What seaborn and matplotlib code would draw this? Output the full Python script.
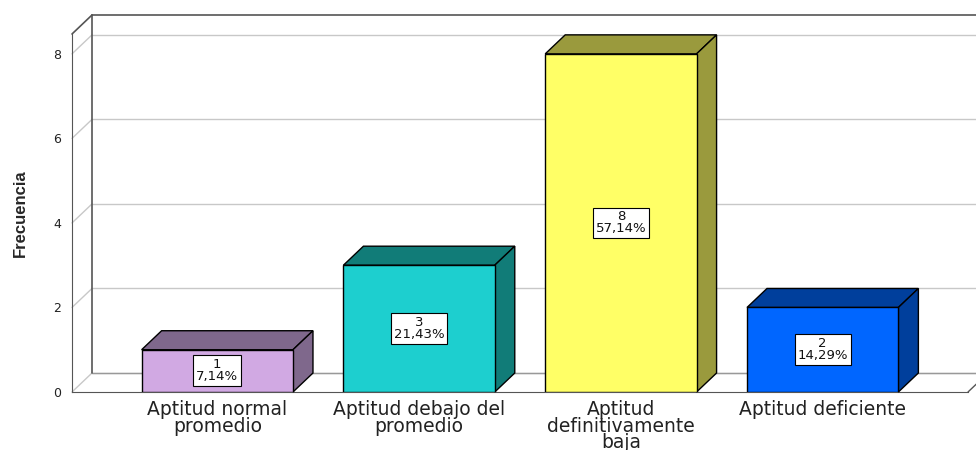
import numpy as np
import pandas as pd
import seaborn as sns
import matplotlib
matplotlib.use('Agg')
import matplotlib.pyplot as plt
from matplotlib.patches import Polygon

categories = ['Aptitud normal\npromedio', 'Aptitud debajo del\npromedio',
              'Aptitud\ndefinitivamente\nbaja', 'Aptitud deficiente']
values = [1, 3, 8, 2]
front_colors = ['#D1A9E3', '#1DCFCF', '#FFFF66', '#0066FF']
shade_colors = ['#7F688C', '#117C78', '#9A9A3D', '#003F9C']
yticks = [0, 2, 4, 6, 8]

sns.set_style('white')
plt.rcParams['font.family'] = ['DejaVu Sans']

df = pd.DataFrame({'cat': categories, 'n': values})

fig = plt.figure(figsize=(9.76, 4.5), dpi=100)
ax = fig.add_axes([72 / 976, 58 / 450, 896 / 976, 358 / 450])

sns.barplot(data=df, x='cat', y='n', hue='cat', palette=front_colors,
            saturation=1, width=0.75, edgecolor='black', linewidth=1,
            legend=False, ax=ax, zorder=5)

ax.set_xlim(-0.72, 3.72)
ax.set_ylim(0, 8.47)

# depth of the fake 3d box, in pixels -> data units
fig.canvas.draw()
bbox = ax.get_window_extent()
dx = 20 * (ax.get_xlim()[1] - ax.get_xlim()[0]) / bbox.width
dy = 19 * (ax.get_ylim()[1] - ax.get_ylim()[0]) / bbox.height
x0, x1 = ax.get_xlim()
ytop = ax.get_ylim()[1]

grid_c = '#C8C8C8'
frame_c = '#555555'

# back wall gridlines and left wall diagonals
for t in yticks:
    ax.plot([x0 + dx, x1 + dx + 1], [t + dy, t + dy], color=grid_c, lw=1,
            clip_on=False, zorder=1)
    if t > 0:
        ax.plot([x0, x0 + dx], [t, t + dy], color=grid_c, lw=1,
                clip_on=False, zorder=1)
# floor
ax.plot([x0 + dx, x1 + dx + 1], [dy, dy], color='#999999', lw=1, clip_on=False, zorder=1)
ax.plot([x1, x1 + dx], [0, dy], color=frame_c, lw=1, clip_on=False, zorder=1)
ax.plot([x0, x0 + dx], [0, dy], color=grid_c, lw=1, clip_on=False, zorder=1)
# back frame
ax.plot([x0 + dx, x0 + dx], [dy, ytop + dy], color=frame_c, lw=1.2, clip_on=False, zorder=1)
ax.plot([x0 + dx, x1 + dx + 1], [ytop + dy, ytop + dy], color=frame_c, lw=1.2,
        clip_on=False, zorder=1)
ax.plot([x0, x0 + dx], [ytop, ytop + dy], color=frame_c, lw=1.2, clip_on=False, zorder=1)

# top and side faces of each bar
total = sum(values)
for i, p in enumerate(ax.patches):
    bx0 = p.get_x()
    bx1 = bx0 + p.get_width()
    h = p.get_height()
    top = Polygon([(bx0, h), (bx1, h), (bx1 + dx, h + dy), (bx0 + dx, h + dy)],
                  closed=True, facecolor=shade_colors[i], edgecolor='black',
                  lw=1, clip_on=False, zorder=4)
    side = Polygon([(bx1, 0), (bx1, h), (bx1 + dx, h + dy), (bx1 + dx, dy)],
                   closed=True, facecolor=shade_colors[i], edgecolor='black',
                   lw=1, clip_on=False, zorder=4)
    ax.add_patch(top)
    ax.add_patch(side)
    pct = f'{values[i] / total * 100:.2f}'.replace('.', ',')
    ax.text(bx0 + p.get_width() / 2, h / 2, f'{values[i]}\n{pct}%',
            ha='center', va='center', fontsize=9.5, linespacing=0.9, zorder=6,
            color='#111111',
            bbox=dict(boxstyle='square,pad=0.22', fc='white', ec='black', lw=0.8))

sns.despine(ax=ax, top=True, right=True)
ax.spines['left'].set_color(frame_c)
ax.spines['bottom'].set_color(frame_c)
ax.spines['left'].set_zorder(7)
ax.spines['bottom'].set_zorder(3)

ax.set_yticks(yticks)
ax.tick_params(axis='y', length=0, pad=8, labelsize=9, labelcolor='#222222')
ax.tick_params(axis='x', length=0, pad=6, labelsize=13.5, labelcolor='#222222')
for lab in ax.get_xticklabels():
    lab.set_linespacing(0.82)
ax.set_xlabel('')
ax.set_ylabel('')

fig.text(20 / 976, 1 - 213 / 450, 'Frecuencia', rotation=90, ha='center', va='center',
         fontsize=12, fontweight='bold',
         family=['Liberation Sans Narrow', 'Liberation Sans', 'DejaVu Sans'])

fig.savefig('out.png', dpi=100)
